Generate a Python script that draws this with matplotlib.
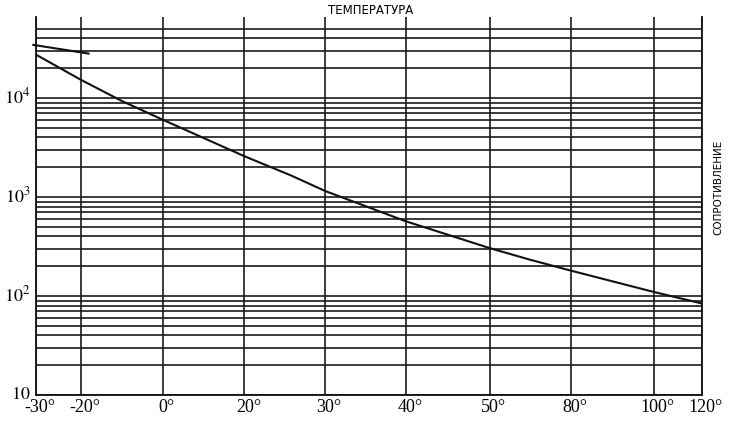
import numpy as np
import matplotlib
matplotlib.use('Agg')
import matplotlib.pyplot as plt
import matplotlib.transforms as mtransforms
from matplotlib.ticker import FixedLocator, FixedFormatter, NullFormatter

# temperature axis is not linear: grid nodes (deg C) and their relative spacing
temp_ticks = [-30, -20, 0, 20, 30, 40, 50, 80, 100, 120]
temp_labels = ['-30°', '-20°', '0°', '20°', '30°', '40°', '50°', '80°', '100°', '120°']
node_pos = [0, 0.547, 1.551, 2.550, 3.537, 4.525, 5.548, 6.548, 7.555, 8.147]

# main resistance curve
curve_t = [-30, -20, -10, 0, 20, 25.7, 30, 40, 50, 65, 80, 100, 120]
curve_r = [27400, 15300, 9340, 6030, 2580, 1660, 1150, 568, 305, 232, 180, 110, 84]

# short stray segment at the top left
seg_t = [-30.6, -18.1]
seg_r = [34400, 28100]

# extend nodes so the scale extrapolates a little past the ends
T = np.array([temp_ticks[0] - 30] + temp_ticks + [temp_ticks[-1] + 30], dtype=float)
k0 = (node_pos[1] - node_pos[0]) / (temp_ticks[1] - temp_ticks[0])
k1 = (node_pos[-1] - node_pos[-2]) / (temp_ticks[-1] - temp_ticks[-2])
P = np.array([node_pos[0] - 30 * k0] + node_pos + [node_pos[-1] + 30 * k1])


def fwd(x):
    return np.interp(x, T, P)


def inv(p):
    return np.interp(p, P, T)


plt.rcParams['mathtext.fontset'] = 'stix'

fig = plt.figure(figsize=(7.3, 4.29), dpi=100)
ax = fig.add_axes([36 / 730, 34 / 429, 666 / 730, 378 / 429])
ax.set_xscale('function', functions=(fwd, inv))
ax.set_yscale('log')

ax.plot(curve_t, curve_r, color='#111111', lw=1.5, zorder=3)
ax.plot(seg_t, seg_r, color='#111111', lw=1.5, zorder=3, clip_on=False)

ax.set_xlim(-30, 120)
ax.set_ylim(10, 65800)

ax.xaxis.set_major_locator(FixedLocator(temp_ticks))
ax.xaxis.set_major_formatter(FixedFormatter(temp_labels))
ax.xaxis.set_minor_locator(FixedLocator([]))

majors = [10, 100, 1000, 10000]
minors = [m * d for d in [10, 100, 1000] for m in range(2, 10)] + [20000, 30000, 40000, 50000]
ax.yaxis.set_major_locator(FixedLocator(majors))
ax.yaxis.set_major_formatter(FixedFormatter(['$10$', '$10^2$', '$10^3$', '$10^4$']))
ax.yaxis.set_minor_locator(FixedLocator(minors))
ax.yaxis.set_minor_formatter(NullFormatter())

ax.grid(True, which='both', axis='y', color='#1a1a1a', lw=1.2)
ax.grid(True, which='major', axis='x', color='#1a1a1a', lw=1.2)
ax.tick_params(which='both', length=0)
ax.tick_params(axis='x', pad=3, labelsize=13)
ax.tick_params(axis='y', pad=4, labelsize=13)

# labels in the scan sit a bit right of the lines (x) and a bit above them (y)
shift_x = mtransforms.ScaledTranslation(4 / 100, 0, fig.dpi_scale_trans)
shift_y = mtransforms.ScaledTranslation(0, 3 / 100, fig.dpi_scale_trans)
for lab in ax.get_xticklabels():
    lab.set_family('Liberation Serif')
    lab.set_transform(lab.get_transform() + shift_x)
for lab in ax.get_yticklabels():
    lab.set_transform(lab.get_transform() + shift_y)

ax.spines['top'].set_visible(False)
for s in ['left', 'right', 'bottom']:
    ax.spines[s].set_linewidth(1.3)
    ax.spines[s].set_color('#111111')

fig.text(371 / 730, 1 - 11 / 429, 'ТЕМПЕРАТУРА', ha='center', va='center',
         fontsize=8.5, family='DejaVu Sans')
fig.text(718 / 730, 1 - 187 / 429, 'СОПРОТИВЛЕНИЕ', ha='center', va='center',
         rotation=90, fontsize=7.5, family='DejaVu Sans')

fig.savefig('out.png', dpi=100)
